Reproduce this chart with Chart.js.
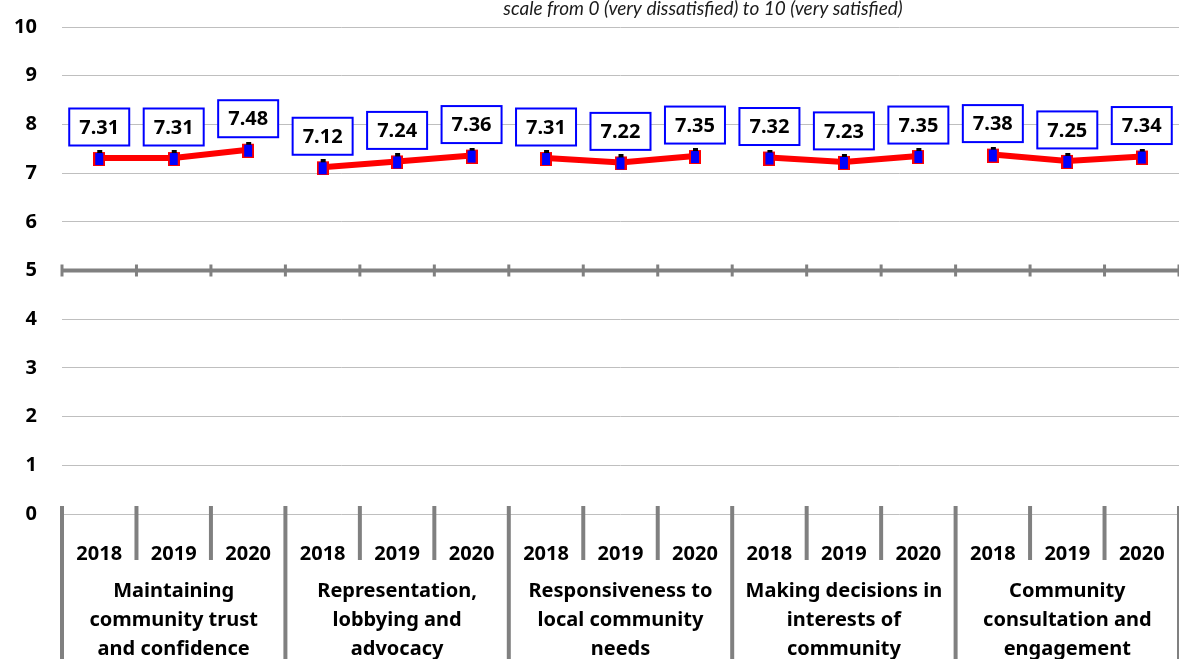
<!DOCTYPE html>
<html>
<head>
<meta charset="utf-8">
<script src="https://cdn.jsdelivr.net/npm/chart.js@4.4.0/dist/chart.umd.min.js"></script>
<style>
  html, body { margin: 0; padding: 0; background: #fff; overflow: hidden; }
  #wrap { position: relative; width: 1192px; height: 675px; margin-top: -10px; }
</style>
</head>
<body>
<div id="wrap"><canvas id="satChart"></canvas></div>
<script>
const years = ['2018', '2019', '2020'];
const groups = [
    ['Maintaining', 'community trust', 'and confidence'],
    ['Representation,', 'lobbying and', 'advocacy'],
    ['Responsiveness to', 'local community', 'needs'],
    ['Making decisions in', 'interests of', 'community'],
    ['Community', 'consultation and', 'engagement'],
];
const scores = [7.31, 7.31, 7.48, 7.12, 7.24, 7.36, 7.31, 7.22, 7.35, 7.32, 7.23, 7.35, 7.38, 7.25, 7.34];
const yTicks = [0, 1, 2, 3, 4, 5, 6, 7, 8, 9, 10];
const titleText = 'scale from 0 (very dissatisfied) to 10 (very satisfied)';

const labels = [];
groups.forEach(() => years.forEach(y => labels.push(y)));

const FONT = '"Noto Sans"';
const WEIGHT = 'bold';
const SIZE = 20;
const sepColor = '#808080';

// marker: blue box, red edge, little black cap on top
const marker = document.createElement('canvas');
marker.width = 12;
marker.height = 16;
(() => {
    const m = marker.getContext('2d');
    m.fillStyle = '#ff0000';
    m.fillRect(0, 2, 12, 14);
    m.fillStyle = '#0000ff';
    m.fillRect(2, 3, 8, 12);
    m.fillStyle = '#000';
    m.fillRect(4, 0, 5, 3);
})();

// boundaries between categories, from the x scale
const boundaries = (x) => {
    const n = labels.length;
    const out = [];
    const step = x.getPixelForValue(1) - x.getPixelForValue(0);
    for (let i = 0; i <= n; i++) out.push(x.getPixelForValue(0) - step / 2 + i * step);
    return out;
};

const decorations = {
    id: 'decorations',
    beforeDatasetsDraw(chart) {
        const ctx = chart.ctx;
        const x = chart.scales.x, y = chart.scales.y;
        const y5 = y.getPixelForValue(5);
        ctx.save();
        // thick line at 5
        ctx.strokeStyle = sepColor;
        ctx.lineWidth = 4;
        ctx.beginPath();
        ctx.moveTo(chart.chartArea.left, y5);
        ctx.lineTo(chart.chartArea.right, y5);
        ctx.stroke();
        ctx.lineWidth = 3;
        boundaries(x).forEach(bx => {
            ctx.beginPath();
            ctx.moveTo(bx, y5 - 6);
            ctx.lineTo(bx, y5 + 6);
            ctx.stroke();
        });
        ctx.restore();
    },
    afterDraw(chart) {
        const ctx = chart.ctx;
        const x = chart.scales.x, y = chart.scales.y;
        const y0 = y.getPixelForValue(0);
        ctx.save();
        // category separators
        ctx.strokeStyle = sepColor;
        ctx.lineWidth = 4;
        boundaries(x).forEach((bx, i) => {
            ctx.beginPath();
            ctx.moveTo(bx, y0 - 8);
            ctx.lineTo(bx, i % 3 === 0 ? chart.height : y0 + 46);
            ctx.stroke();
        });
        // group labels
        ctx.fillStyle = '#000';
        ctx.font = WEIGHT + ' ' + SIZE + 'px ' + FONT;
        ctx.textAlign = 'center';
        ctx.textBaseline = 'middle';
        groups.forEach((g, gi) => {
            const cx = x.getPixelForValue(gi * 3 + 1);
            g.forEach((line, li) => ctx.fillText(line, cx, y0 + 77 + li * 29));
        });
        // title
        ctx.font = 'italic 19px Lato';
        ctx.fillStyle = '#1a1a1a';
        ctx.textBaseline = 'alphabetic';
        ctx.fillText(titleText, 703, chart.chartArea.top - 12);
        ctx.restore();
    }
};

const valueBoxes = {
    id: 'valueBoxes',
    afterDatasetsDraw(chart) {
        const ctx = chart.ctx;
        const meta = chart.getDatasetMeta(0);
        ctx.save();
        ctx.font = WEIGHT + ' ' + SIZE + 'px ' + FONT;
        ctx.textAlign = 'center';
        ctx.textBaseline = 'middle';
        meta.data.forEach((pt, i) => {
            const cx = pt.x, cy = pt.y - 31;
            const w = 60, h = 37;
            ctx.fillStyle = '#fff';
            ctx.fillRect(cx - w / 2, cy - h / 2, w, h);
            ctx.strokeStyle = '#0000ff';
            ctx.lineWidth = 2;
            ctx.strokeRect(cx - w / 2, cy - h / 2, w, h);
            ctx.fillStyle = '#000';
            ctx.fillText(scores[i].toFixed(2), cx, cy + 1);
        });
        ctx.restore();
    }
};

const satChart = new Chart(document.getElementById('satChart').getContext('2d'), {
    type: 'line',
    data: {
        labels: labels,
        datasets: [{
            data: scores,
            borderColor: '#ff0000',
            borderWidth: 6,
            segment: {
                borderColor: c => c.p0DataIndex % 3 === 2 ? 'transparent' : '#ff0000'
            },
            pointStyle: marker,
            pointRadius: 7,
            tension: 0
        }]
    },
    options: {
        responsive: true,
        maintainAspectRatio: false,
        animation: false,
        layout: { padding: { top: 16, right: 5, bottom: 0, left: 0 } },
        plugins: {
            legend: { display: false },
            tooltip: { enabled: false }
        },
        scales: {
            x: {
                offset: true,
                grid: { display: false },
                border: { display: false },
                ticks: {
                    color: '#000',
                    font: { family: FONT, size: SIZE, weight: WEIGHT },
                    padding: 20,
                    maxRotation: 0,
                    autoSkip: false
                },
                afterFit: s => { s.height = 151; }
            },
            y: {
                min: 0,
                max: 10,
                afterBuildTicks: s => { s.ticks = yTicks.map(v => ({ value: v })); },
                grid: {
                    color: c => c.tick && c.tick.value === 5 ? 'rgba(0,0,0,0)' : '#bfbfbf',
                    lineWidth: 1,
                    drawTicks: false
                },
                border: { display: false },
                ticks: {
                    color: '#000',
                    font: { family: FONT, size: SIZE, weight: WEIGHT },
                    padding: 25
                },
                afterFit: s => { s.width = 62; }
            }
        }
    },
    plugins: [decorations, valueBoxes]
});
</script>
</body>
</html>
